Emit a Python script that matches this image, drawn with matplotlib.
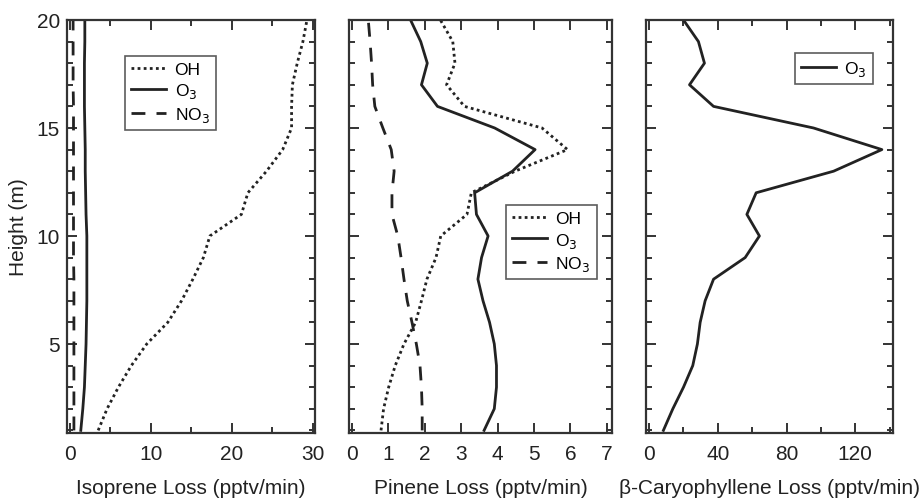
import matplotlib
matplotlib.use("Agg")
import matplotlib.pyplot as plt
from matplotlib.ticker import MultipleLocator

plt.rcParams['font.family'] = ['Liberation Sans', 'DejaVu Sans']

heights = list(range(1, 21))

# Isoprene loss (pptv/min), heights 1..20
iso_oh = [3.5, 4.6, 6.0, 7.6, 9.5, 12.1, 13.8, 15.2, 16.5, 17.3,
          21.2, 22.0, 24.3, 26.3, 27.4, 27.4, 27.5, 28.1, 28.8, 29.3]
iso_o3 = [1.35, 1.6, 1.8, 1.9, 2.0, 2.05, 2.1, 2.1, 2.1, 2.1,
          2.0, 1.95, 1.9, 1.9, 1.85, 1.8, 1.8, 1.8, 1.85, 1.85]
iso_no3 = [0.5, 0.5, 0.5, 0.5, 0.5, 0.5, 0.5, 0.5, 0.45, 0.45,
           0.45, 0.45, 0.45, 0.45, 0.45, 0.45, 0.4, 0.4, 0.4, 0.4]

# Pinene loss (pptv/min)
pin_oh = [0.80, 0.87, 1.01, 1.19, 1.43, 1.75, 1.91, 2.06, 2.31, 2.44,
          3.16, 3.28, 4.48, 5.92, 5.22, 3.09, 2.60, 2.83, 2.77, 2.43]
pin_o3 = [3.63, 3.91, 3.97, 3.97, 3.91, 3.78, 3.60, 3.46, 3.56, 3.74,
          3.42, 3.37, 4.41, 5.03, 3.92, 2.35, 1.91, 2.07, 1.89, 1.61]
pin_no3 = [1.93, 1.93, 1.91, 1.87, 1.77, 1.65, 1.52, 1.43, 1.35, 1.26,
           1.10, 1.10, 1.16, 1.08, 0.85, 0.63, 0.57, 0.54, 0.50, 0.45]

# beta-Caryophyllene loss (pptv/min)
car_o3 = [8.3, 13.8, 20.0, 25.4, 28.1, 29.7, 32.6, 37.5, 55.9, 64.2,
          56.9, 62.3, 107.4, 135.5, 95.7, 37.5, 23.5, 32.2, 28.7, 20.0]

fig = plt.figure(figsize=(9.22, 5.02), dpi=100)
bottom, height = 0.1355, 0.8227
ax1 = fig.add_axes([0.0727, bottom, 0.2690, height])
ax2 = fig.add_axes([0.3785, bottom, 0.2852, height])
ax3 = fig.add_axes([0.7007, bottom, 0.2679, height])

lw = 2.0
dot = (0, (1, 1.2))
dash = (0, (5, 4))
ink = '#222222'

ax1.plot(iso_oh, heights, color=ink, lw=lw, linestyle=dot, label='OH')
ax1.plot(iso_o3, heights, color=ink, lw=lw, linestyle='-', label='O$_3$')
ax1.plot(iso_no3, heights, color=ink, lw=lw, linestyle=dash, label='NO$_3$')

ax2.plot(pin_oh, heights, color=ink, lw=lw, linestyle=dot, label='OH')
ax2.plot(pin_o3, heights, color=ink, lw=lw, linestyle='-', label='O$_3$')
ax2.plot(pin_no3, heights, color=ink, lw=lw, linestyle=dash, label='NO$_3$')

ax3.plot(car_o3, heights, color=ink, lw=lw, linestyle='-', label='O$_3$')

ax1.set_xlim(-0.35, 30.3)
ax2.set_xlim(-0.08, 7.14)
ax3.set_xlim(-1.8, 142)

for ax in (ax1, ax2, ax3):
    ax.set_ylim(0.88, 20)
    ax.yaxis.set_major_locator(MultipleLocator(5))
    ax.yaxis.set_minor_locator(MultipleLocator(1))
    ax.tick_params(which='both', direction='in', top=True, right=True,
                   labelsize=15, color='#333333', labelcolor='#222222')
    ax.tick_params(which='major', length=7, width=1.4, pad=8)
    ax.tick_params(which='minor', length=4.5, width=1.4)
    for s in ax.spines.values():
        s.set_linewidth(1.6)
        s.set_color('#333333')

ax1.tick_params(axis='y', which='major', pad=5)

ax1.xaxis.set_major_locator(MultipleLocator(10))
ax1.xaxis.set_minor_locator(MultipleLocator(5))
ax2.xaxis.set_major_locator(MultipleLocator(1))
ax2.xaxis.set_minor_locator(MultipleLocator(1))
ax3.xaxis.set_major_locator(MultipleLocator(40))
ax3.xaxis.set_minor_locator(MultipleLocator(20))

ax2.tick_params(axis='y', labelleft=False)
ax3.tick_params(axis='y', labelleft=False)

lab = dict(fontsize=15, color='#222222')
ax1.set_ylabel('Height (m)', labelpad=6, **lab)
ax1.set_xlabel('Isoprene Loss (pptv/min)', labelpad=11, **lab)
ax2.set_xlabel('Pinene Loss (pptv/min)', labelpad=11, **lab)
ax3.set_xlabel('β-Caryophyllene Loss (pptv/min)', labelpad=11, **lab)

legkw = dict(fontsize=12.5, frameon=True, fancybox=False, handlelength=2.0,
             handletextpad=0.5, borderpad=0.35, labelspacing=0.25,
             borderaxespad=0)
l1 = ax1.legend(loc='upper left', bbox_to_anchor=(0.234, 0.913), **legkw)
l2 = ax2.legend(loc='upper left', bbox_to_anchor=(0.597, 0.552), **legkw)
l3 = ax3.legend(loc='upper left', bbox_to_anchor=(0.603, 0.92), **legkw)
for l in (l1, l2, l3):
    f = l.get_frame()
    f.set_edgecolor('#333333')
    f.set_linewidth(1.2)

fig.savefig('out.png', dpi=100)
